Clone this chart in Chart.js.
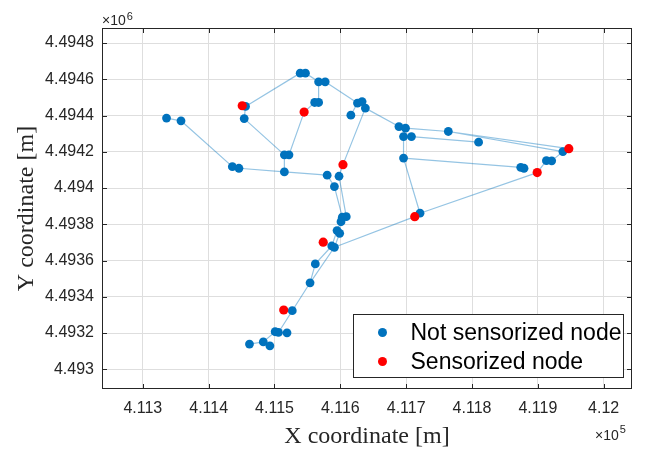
<!DOCTYPE html>
<html>
<head>
<meta charset="utf-8">
<script src="https://cdn.jsdelivr.net/npm/chart.js@4.4.1/dist/chart.umd.min.js"></script>
<style>
  html, body { margin: 0; padding: 0; background: #fff; }
</style>
</head>
<body>
<canvas id="graphChart" width="650" height="450"></canvas>
<script>
// Coordenadas de los nodos (m)
const nodeX = [
  411336, 411358, 411436, 411446, 411515, 411515, 411522, 411454, 411456, 411451,
  411539, 411547, 411567, 411577, 411561, 411567, 411545, 411626, 411633, 411638,
  411616, 411604, 411580, 411598, 411591, 411603, 411609, 411601, 411595, 411599,
  411574, 411587, 411591, 411562, 411554, 411514, 411527, 411501, 411506, 411519,
  411483, 411493, 411462, 411696, 411689, 411699, 411696, 411708, 411764, 411810,
  411938, 411947, 411913, 411921, 411874, 411879, 411899, 411721, 411713
];
const nodeY = [
  4494386, 4494371, 4494118, 4494109, 4494089, 4494183, 4494183, 4494383, 4494450, 4494454,
  4494634, 4494634, 4494586, 4494586, 4494472, 4494472, 4494419, 4494469, 4494477, 4494441,
  4494402, 4494129, 4494071, 4494065, 4494008, 4493839, 4493842, 4493814, 4493765, 4493750,
  4493701, 4493680, 4493673, 4493581, 4493477, 4493327, 4493323, 4493207, 4493203, 4493201,
  4493151, 4493129, 4493139, 4494165, 4494339, 4494330, 4494284, 4494284, 4494312, 4494253,
  4494201, 4494217, 4494151, 4494150, 4494114, 4494109, 4494085, 4493861, 4493842
];
// 1 = nodo sensorizado
const sensorized = [
  0, 0, 0, 0, 0, 0, 0, 0, 0, 1,
  0, 0, 0, 0, 0, 0, 1, 0, 0, 0,
  0, 1, 0, 0, 0, 0, 0, 0, 0, 0,
  1, 0, 0, 0, 0, 1, 0, 0, 0, 0,
  0, 0, 0, 0, 0, 0, 0, 0, 0, 0,
  0, 1, 0, 0, 0, 0, 1, 0, 1
];
// Tuberías (pares de índices de nodos)
const edges = [
  [0, 1], [1, 2], [2, 3], [3, 4], [4, 22], [4, 5], [5, 6], [5, 7], [6, 16], [16, 14],
  [14, 15], [15, 12], [7, 8], [8, 9], [8, 10], [10, 11], [11, 12], [12, 13], [13, 17], [17, 18],
  [18, 19], [17, 20], [19, 21], [21, 23], [22, 24], [24, 25], [23, 26], [25, 26], [25, 27], [27, 28],
  [28, 29], [28, 31], [29, 32], [30, 31], [31, 33], [33, 34], [32, 34], [34, 36], [36, 35], [36, 38],
  [38, 37], [38, 39], [37, 40], [40, 41], [40, 42], [56, 57], [57, 58], [58, 32], [57, 43], [43, 46],
  [46, 47], [45, 46], [43, 54], [54, 55], [47, 49], [44, 45], [19, 44], [45, 48], [48, 50], [48, 51],
  [50, 51], [50, 53], [53, 52], [52, 56]
];
const xTicks = [411300, 411400, 411500, 411600, 411700, 411800, 411900, 412000];
const yTicks = [4493000, 4493200, 4493400, 4493600, 4493800, 4494000, 4494200, 4494400, 4494600, 4494800];

const AXIS_COLOR = '#262626';
const SANS = '"Liberation Sans", Arial, sans-serif';
const SERIF = '"Liberation Serif", "Times New Roman", serif';

const edgeData = [];
edges.forEach(([a, b]) => {
  edgeData.push({ x: nodeX[a], y: nodeY[a] });
  edgeData.push({ x: nodeX[b], y: nodeY[b] });
  edgeData.push({ x: null, y: null });
});
const blueNodes = [], redNodes = [];
nodeX.forEach((x, i) => {
  (sensorized[i] ? redNodes : blueNodes).push({ x: x, y: nodeY[i] });
});

// Marco, marcas interiores, títulos y leyenda al estilo MATLAB
const matlabFrame = {
  id: 'matlabFrame',
  afterDraw(chart) {
    const ctx = chart.ctx;
    const area = chart.chartArea;
    const xs = chart.scales.x, ys = chart.scales.y;
    ctx.save();
    ctx.strokeStyle = AXIS_COLOR;
    ctx.lineWidth = 1;
    ctx.strokeRect(area.left + 0.5, area.top + 0.5, area.right - area.left - 1, area.bottom - area.top - 1);
    ctx.beginPath();
    xs.ticks.forEach(t => {
      const px = Math.round(xs.getPixelForValue(t.value)) + 0.5;
      ctx.moveTo(px, area.bottom); ctx.lineTo(px, area.bottom - 5);
      ctx.moveTo(px, area.top); ctx.lineTo(px, area.top + 5);
    });
    ys.ticks.forEach(t => {
      const py = Math.round(ys.getPixelForValue(t.value)) + 0.5;
      ctx.moveTo(area.left, py); ctx.lineTo(area.left + 5, py);
      ctx.moveTo(area.right, py); ctx.lineTo(area.right - 5, py);
    });
    ctx.stroke();

    // títulos de ejes
    ctx.fillStyle = AXIS_COLOR;
    ctx.font = '24px ' + SERIF;
    ctx.textAlign = 'center';
    ctx.textBaseline = 'middle';
    ctx.fillText('X coordinate [m]', (area.left + area.right) / 2, 437);
    ctx.save();
    ctx.translate(27, (area.top + area.bottom) / 2);
    ctx.rotate(-Math.PI / 2);
    ctx.fillText('Y coordinate [m]', 0, 0);
    ctx.restore();

    // exponentes
    ctx.textAlign = 'left';
    ctx.textBaseline = 'alphabetic';
    ctx.font = '14px ' + SANS;
    ctx.fillText('\u00d710', area.left, 25);
    let w = ctx.measureText('\u00d710').width;
    ctx.font = '11px ' + SANS;
    ctx.fillText('6', area.left + w + 1, 20);
    ctx.font = '14px ' + SANS;
    ctx.fillText('\u00d710', 595, 440);
    w = ctx.measureText('\u00d710').width;
    ctx.font = '11px ' + SANS;
    ctx.fillText('5', 595 + w + 1, 433);

    // leyenda
    const lx = 353.5, ly = 314.5, lw = 270, lh = 63;
    ctx.fillStyle = '#fff';
    ctx.fillRect(lx, ly, lw, lh);
    ctx.strokeStyle = '#262626';
    ctx.strokeRect(lx, ly, lw, lh);
    const items = [
      { label: 'Not sensorized node', color: '#0072BD' },
      { label: 'Sensorized node', color: '#FF0000' }
    ];
    ctx.font = '23px ' + SANS;
    ctx.textBaseline = 'middle';
    items.forEach((it, i) => {
      const cy = ly + 18 + i * 29;
      ctx.fillStyle = it.color;
      ctx.beginPath();
      ctx.arc(lx + 29, cy, 4.5, 0, Math.PI * 2);
      ctx.fill();
      ctx.fillStyle = '#000';
      ctx.fillText(it.label, lx + 57, cy + 1);
    });
    ctx.restore();
  }
};

const ctx = document.getElementById('graphChart').getContext('2d');
const chart = new Chart(ctx, {
  type: 'scatter',
  data: {
    datasets: [
      {
        label: 'Sensorized node',
        data: redNodes,
        backgroundColor: '#FF0000',
        borderWidth: 0,
        pointRadius: 4.6,
        order: 1
      },
      {
        label: 'Not sensorized node',
        data: blueNodes,
        backgroundColor: '#0072BD',
        borderWidth: 0,
        pointRadius: 4.4,
        order: 2
      },
      {
        label: 'edges',
        type: 'line',
        data: edgeData,
        showLine: true,
        spanGaps: false,
        borderColor: 'rgba(0, 114, 189, 0.42)',
        borderWidth: 1.2,
        pointRadius: 0,
        order: 3
      }
    ]
  },
  options: {
    responsive: false,
    animation: false,
    devicePixelRatio: 1,
    layout: { padding: { top: 28, right: 18, left: 0, bottom: 0 } },
    plugins: {
      legend: { display: false },
      tooltip: { enabled: false }
    },
    scales: {
      x: {
        type: 'linear',
        min: 411238,
        max: 412043,
        afterBuildTicks: s => { s.ticks = xTicks.map(v => ({ value: v })); },
        afterFit: s => { s.height = 61; },
        ticks: {
          font: { family: SANS, size: 16 },
          color: AXIS_COLOR,
          padding: 10,
          maxRotation: 0,
          callback: v => String(parseFloat((v / 1e5).toFixed(3)))
        },
        grid: { color: '#dedede', drawTicks: false },
        border: { display: false }
      },
      y: {
        type: 'linear',
        min: 4492891,
        max: 4494883,
        afterBuildTicks: s => { s.ticks = yTicks.map(v => ({ value: v })); },
        afterFit: s => { s.width = 102; },
        ticks: {
          font: { family: SANS, size: 16 },
          color: AXIS_COLOR,
          padding: 8,
          callback: v => String(parseFloat((v / 1e6).toFixed(4)))
        },
        grid: { color: '#dedede', drawTicks: false },
        border: { display: false }
      }
    }
  },
  plugins: [matlabFrame]
});
</script>
</body>
</html>
